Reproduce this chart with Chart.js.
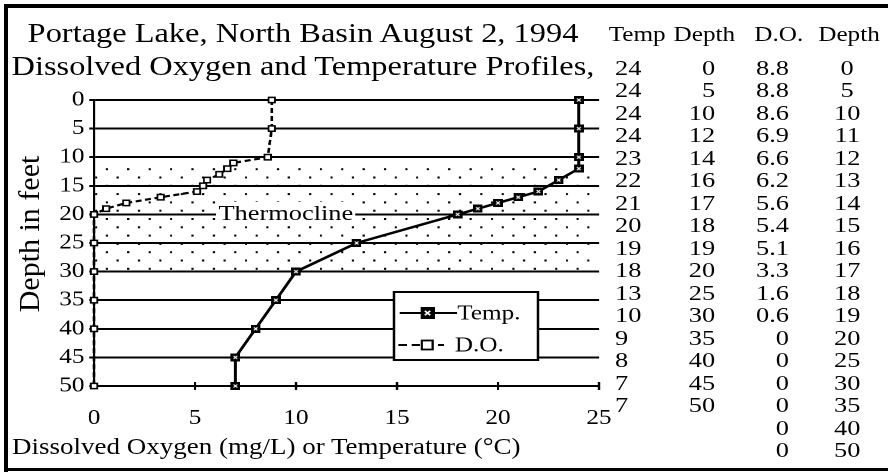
<!DOCTYPE html>
<html>
<head>
<meta charset="utf-8">
<script src="https://cdn.jsdelivr.net/npm/chart.js@4.4.1/dist/chart.umd.min.js"></script>
<style>
html,body{margin:0;padding:0;background:#fff;}
#page{position:relative;width:888px;height:473px;overflow:hidden;background:#fff;font-family:"Liberation Serif","Times New Roman",serif;color:#000;}
#stage{position:absolute;left:0;top:0;width:740px;height:473px;transform:scaleX(1.2);transform-origin:0 0;}
#chart{position:absolute;left:0;top:0;}
.t{position:absolute;white-space:nowrap;line-height:1;}
.bd{position:absolute;background:#000;}
</style>
</head>
<body>
<div id="page">
  <div id="stage">
    <canvas id="chart" width="740" height="473"></canvas>
  </div>
</div>
<script>
// ---------- data ----------
const titleLines = ['Portage Lake, North Basin August 2, 1994', 'Dissolved Oxygen and Temperature Profiles,'];
const xAxisTitle = 'Dissolved Oxygen (mg/L) or Temperature (°C)';
const yAxisTitle = 'Depth in feet';
const tempLabel = 'Temp.';
const doLabel = 'D.O.';
const tableHeaders = ['Temp', 'Depth', 'D.O.', 'Depth'];
const tempValues = [24, 24, 24, 24, 23, 22, 21, 20, 19, 18, 13, 10, 9, 8, 7, 7];
const tempDepths = [0, 5, 10, 12, 14, 16, 17, 18, 19, 20, 25, 30, 35, 40, 45, 50];
const doValues = [8.8, 8.8, 8.6, 6.9, 6.6, 6.2, 5.6, 5.4, 5.1, 3.3, 1.6, 0.6, 0, 0, 0, 0, 0, 0];
const doDepths = [0, 5, 10, 11, 12, 13, 14, 15, 16, 17, 18, 19, 20, 25, 30, 35, 40, 50];
const xTickValues = [0, 5, 10, 15, 20, 25];
const yTickValues = [0, 5, 10, 15, 20, 25, 30, 35, 40, 45, 50];
const thermoclineRange = [10, 30];
const thermoclineLabel = 'Thermocline';
const thermoclineLabelDepth = 20;

// ---------- helpers ----------
const stage = document.getElementById('stage');
const page = document.getElementById('page');
function addText(parent, text, css) {
  const d = document.createElement('div');
  d.className = 't';
  d.textContent = text;
  Object.assign(d.style, css);
  parent.appendChild(d);
  return d;
}
// frame
[['4px','4px','4px','468px'],['4px','4px','884px','4px'],['4px','468px','884px','3px']].forEach(([l,t,w,h])=>{
  const b=document.createElement('div');b.className='bd';
  Object.assign(b.style,{left:l,top:t,width:w,height:h});page.appendChild(b);
});

// title
addText(stage, titleLines[0], {left:'-47.5px', width:'600px', textAlign:'center', top:'20.4px', fontSize:'27px'});
addText(stage, titleLines[1], {left:'-47.5px', width:'600px', textAlign:'center', top:'53.4px', fontSize:'27px'});

// table
const headerCenters = [531, 587, 649, 707.5];
tableHeaders.forEach((h,i)=>{
  addText(stage, h, {left:(headerCenters[i]-40)+'px', width:'80px', textAlign:'center', top:'24.4px', fontSize:'21px'});
});
const rowCount = Math.max(tempValues.length, doValues.length);
for (let i=0;i<rowCount;i++){
  const top = (56.6 + 22.5*i)+'px';
  if (i < tempValues.length) {
    addText(stage, String(tempValues[i]), {left:'512.5px', top, fontSize:'22px'});
    addText(stage, String(tempDepths[i]), {right:(740-596)+'px', top, fontSize:'22px', textAlign:'right'});
  }
  if (i < doValues.length) {
    addText(stage, String(doValues[i]), {right:(740-657.5)+'px', top, fontSize:'22px', textAlign:'right'});
    addText(stage, String(doDepths[i]), {left:(706-30)+'px', width:'60px', textAlign:'center', top, fontSize:'22px'});
  }
}

// axis titles
addText(stage, xAxisTitle, {left:'10px', top:'436px', fontSize:'22.5px'});
addText(page, yAxisTitle, {left:(29-120)+'px', top:(234-15)+'px', width:'240px', textAlign:'center', fontSize:'30px', lineHeight:'30px', transform:'rotate(-90deg)'});

// ---------- markers ----------
function makeTempMarker() {
  const c = document.createElement('canvas'); c.width = 32; c.height = 32;
  const g = c.getContext('2d');
  g.fillStyle = '#000'; g.fillRect(0,0,32,32);
  g.strokeStyle = '#fff'; g.lineWidth = 4;
  g.beginPath(); g.moveTo(10,10); g.lineTo(22,22); g.moveTo(22,10); g.lineTo(10,22); g.stroke();
  return c.toDataURL();
}
const markerURL = makeTempMarker();
const tempMarker = new Image(); tempMarker.width = 8; tempMarker.height = 8;
const legendMarker = new Image(); legendMarker.width = 12; legendMarker.height = 12;

// ---------- plugins ----------
const thermoDots = {
  id: 'thermoDots',
  beforeDatasetsDraw(chart) {
    const {ctx, chartArea, scales:{y}} = chart;
    const yTop = y.getPixelForValue(thermoclineRange[0]);
    const yBot = y.getPixelForValue(thermoclineRange[1]);
    ctx.save();
    ctx.fillStyle = '#000';
    const px = 17.83, py = 8.3;
    let row = 0;
    for (let yy = yTop + 12; yy < yBot - 2; yy += py, row++) {
      const off = row % 2 === 0 ? 10.75 : 1.83;
      for (let xx = chartArea.left + off; xx < chartArea.right - 7; xx += px) {
        ctx.fillRect(xx - 0.9, yy - 1, 1.8, 2);
      }
    }
    ctx.restore();
  }
};
const extras = {
  id: 'extras',
  afterDraw(chart) {
    const {ctx, chartArea, scales:{x}} = chart;
    ctx.save();
    ctx.strokeStyle = '#000'; ctx.lineWidth = 2;
    ctx.beginPath();
    xTickValues.forEach(v => {
      if (v === 0) return;
      const p = x.getPixelForValue(v);
      ctx.moveTo(p, chartArea.bottom - 4); ctx.lineTo(p, chartArea.bottom + 4);
    });
    ctx.stroke();
    // legend
    const bx = 328.3, by = 292, bw = 120, bh = 68;
    ctx.fillStyle = '#fff'; ctx.fillRect(bx, by, bw, bh);
    ctx.lineWidth = 2; ctx.strokeRect(bx, by, bw, bh);
    const ds = chart.data.datasets;
    const r1 = 313, r2 = 345;
    ctx.lineWidth = 2;
    ctx.beginPath(); ctx.moveTo(333, r1); ctx.lineTo(381, r1); ctx.stroke();
    ctx.drawImage(legendMarker, 356.25 - 6, r1 - 6, 12, 12);
    ctx.setLineDash([7,4]);
    ctx.beginPath(); ctx.moveTo(332, r2); ctx.lineTo(370, r2); ctx.stroke();
    ctx.setLineDash([]);
    ctx.fillStyle = '#fff'; ctx.lineWidth = 1.8;
    ctx.fillRect(351.5, r2 - 4.5, 9, 9); ctx.strokeRect(351.5, r2 - 4.5, 9, 9);
    ctx.fillStyle = '#000';
    ctx.font = '21px "Liberation Serif", serif';
    ctx.textBaseline = 'middle';
    ctx.fillText(ds[0].label, 381, r1 + 1);
    ctx.fillText(ds[1].label, 379, r2 + 1);
    ctx.restore();
  }
};

function build() {
  Chart.defaults.font.family = '"Liberation Serif", "Times New Roman", serif';
  Chart.defaults.color = '#000';
  const chart = new Chart(document.getElementById('chart'), {
    type: 'scatter',
    data: {
      datasets: [
        {
          label: tempLabel,
          data: tempValues.map((v,i)=>({x:v, y:tempDepths[i]})),
          showLine: true,
          borderColor: '#000',
          borderWidth: 2.5,
          pointStyle: tempMarker,
          pointRadius: 4,
          clip: false,
          order: 0
        },
        {
          label: doLabel,
          data: doValues.map((v,i)=>({x:v, y:doDepths[i]})),
          showLine: true,
          borderColor: '#000',
          borderWidth: 2.2,
          borderDash: [5,3],
          pointStyle: 'rect',
          pointRadius: 3.8,
          pointBackgroundColor: '#fff',
          pointBorderColor: '#000',
          pointBorderWidth: 1.5,
          clip: false,
          order: 1
        }
      ]
    },
    options: {
      responsive: false,
      devicePixelRatio: 2,
      animation: false,
      events: [],
      layout: {padding: {left: 0, right: 740 - 499.17, top: 100, bottom: 0}},
      plugins: {legend: {display: false}, tooltip: {enabled: false}, title: {display: false}},
      scales: {
        x: {
          type: 'linear', min: 0, max: 25,
          afterBuildTicks: s => { s.ticks = xTickValues.map(v => ({value: v})); },
          afterFit: s => { s.height = 87; },
          grid: {display: false},
          border: {display: true, color: '#000', width: 2},
          ticks: {font: {size: 21}, color: '#000', padding: 12, maxRotation: 0, autoSkip: false}
        },
        y: {
          type: 'linear', min: 0, max: 50, reverse: true,
          afterBuildTicks: s => { s.ticks = yTickValues.map(v => ({value: v})); },
          afterFit: s => { s.width = 78.33; },
          grid: {display: true, color: '#000', lineWidth: 2, drawTicks: true, tickLength: 4},
          border: {display: true, color: '#000', width: 1.7},
          ticks: {font: {size: 21}, color: '#000', padding: 4, autoSkip: false}
        }
      }
    },
    plugins: [thermoDots, extras]
  });
  const yPix = chart.scales.y.getPixelForValue(thermoclineLabelDepth);
  addText(stage, thermoclineLabel, {left:'180px', top:(yPix - 12.8)+'px', fontSize:'22px', background:'#fff', padding:'0 2px'});
}

let loaded = 0;
function onLoad(){ if (++loaded === 2) build(); }
tempMarker.onload = onLoad; legendMarker.onload = onLoad;
tempMarker.src = markerURL; legendMarker.src = markerURL;
</script>
</body>
</html>
